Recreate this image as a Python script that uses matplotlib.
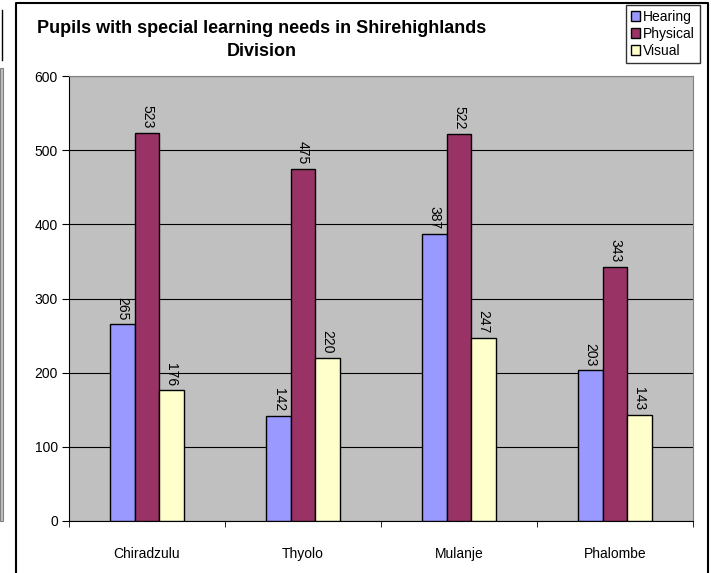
import matplotlib.pyplot as plt
import numpy as np
from matplotlib.lines import Line2D
from matplotlib.patches import Rectangle

plt.rcParams['font.family'] = ['Liberation Sans', 'DejaVu Sans']

# data
districts = ['Chiradzulu', 'Thyolo', 'Mulanje', 'Phalombe']
hearing = [265, 142, 387, 203]
physical = [523, 475, 522, 343]
visual = [176, 220, 247, 143]
series = [('Hearing', hearing, '#9999FF'),
          ('Physical', physical, '#993366'),
          ('Visual', visual, '#FFFFCC')]

fig = plt.figure(figsize=(7.11, 5.73), dpi=100)
ax = fig.add_axes([69/711, 52/573, 624/711, 445/573])
ax.set_facecolor('#C0C0C0')

x = np.arange(len(districts))
w = 0.157
for i, (name, vals, col) in enumerate(series):
    pos = x + (i - 1) * w
    ax.bar(pos, vals, w, color=col, edgecolor='black', linewidth=1, label=name, zorder=3)
    for px, v in zip(pos, vals):
        ax.text(px, v + 6, str(v), rotation=270, ha='center', va='bottom', fontsize=10, zorder=4)

ax.set_xlim(-0.5, len(districts) - 0.5)
ax.set_ylim(0, 600)
ax.set_yticks(range(0, 601, 100))
ax.yaxis.grid(True, color='black', linewidth=0.8, zorder=1)
ax.set_axisbelow(True)
ax.set_xticks(x)
ax.set_xticklabels(districts, fontsize=10)
ax.set_xticks(np.arange(-0.5, len(districts), 1), minor=True)
ax.tick_params(axis='x', which='major', length=0, pad=19)
ax.tick_params(axis='x', which='minor', length=4, direction='out', color='black')
ax.tick_params(axis='y', length=5, direction='out', labelsize=10, pad=3)
for s in ['top', 'right']:
    ax.spines[s].set_color('#808080')
for s in ['left', 'bottom']:
    ax.spines[s].set_color('black')

fig.text(262/711, 1 - 40/573, 'Pupils with special learning needs in Shirehighlands\nDivision',
         ha='center', va='center', fontsize=13, fontweight='bold', linespacing=1.4)

leg = fig.legend(loc='upper right', bbox_to_anchor=(700/711, 1 - 5/573), fontsize=10,
                 frameon=True, fancybox=False, edgecolor='black', handlelength=0.65,
                 handleheight=0.65, handletextpad=0.25, borderpad=0.35, labelspacing=0.22,
                 borderaxespad=0)
leg.get_frame().set_linewidth(1)

# chart frame
H = 573
fig.add_artist(Line2D([16/711, 16/711, 708/711, 708/711], [0, 1 - 3/H, 1 - 3/H, 0],
                      transform=fig.transFigure, color='black', linewidth=1.5))
# edge of neighbouring chart on the left
fig.add_artist(Line2D([2/711, 2/711], [1 - 10/H, 1 - 60/H], transform=fig.transFigure,
                      color='black', linewidth=1))
fig.add_artist(Rectangle((0, 1 - 521/H), 3/711, 453/H, transform=fig.transFigure,
                         facecolor='#C0C0C0', edgecolor='#808080', linewidth=0.8))

fig.savefig('out.png', dpi=100)
